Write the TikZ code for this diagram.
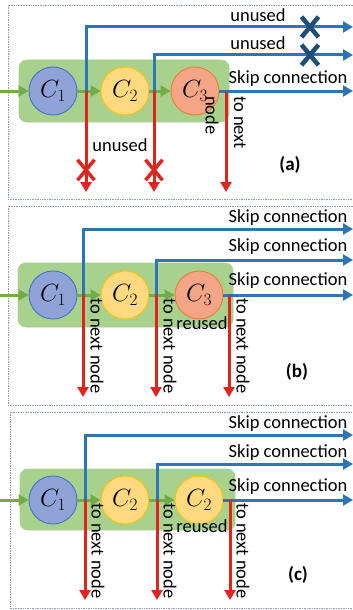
\documentclass[tikz,border=0pt]{standalone}
\usepackage{fontspec}
\setmainfont{Carlito}
\usepackage{tikz}
\definecolor{skipblue}{RGB}{46,117,182}
\definecolor{crossblue}{RGB}{31,78,121}
\definecolor{nextred}{RGB}{224,36,30}
\definecolor{flowgreen}{RGB}{112,173,71}
\definecolor{boxgreen}{RGB}{169,209,142}
\definecolor{cellblue}{RGB}{143,163,216}
\definecolor{cellblueline}{RGB}{68,114,196}
\definecolor{cellyellow}{RGB}{255,217,127}
\definecolor{cellyellowline}{RGB}{255,192,0}
\definecolor{cellred}{RGB}{243,165,133}
\definecolor{cellredline}{RGB}{237,125,49}
\definecolor{framegray}{RGB}{132,151,190}
\usetikzlibrary{arrows.meta, shapes.misc}

\begin{document}
\begin{tikzpicture}[x=1pt, y=-1pt,
					>={Triangle[length=10pt,width=11pt]},   %Pfeilspitzen
					font=\fontsize{18.5}{20}\selectfont,
					cross/.style={draw, cross out, minimum width=#1, minimum height=1.2*#1, inner sep=0pt, outer sep=0pt},
					bluecross/.style={cross=17, crossblue, line width=4.5pt},
					redcross/.style={cross=17, nextred, line width=3.5pt},
					frame/.style={framegray, densely dotted, line width=0.7pt},
					box/.style={rounded corners=8pt, fill=boxgreen, draw=flowgreen!60, line width=0.8pt},
					cell/.style={circle, minimum size=48pt, inner sep=0pt, line width=0.9pt, font=\fontsize{26}{28}\selectfont},
					c1/.style={cell, fill=cellblue, draw=cellblueline},
					c2/.style={cell, fill=cellyellow, draw=cellyellowline},
					c3/.style={cell, fill=cellred, draw=cellredline},
					flow/.style={->, flowgreen, line width=3pt},
					skip/.style={->, skipblue, line width=3pt},
					next/.style={->, nextred, line width=3pt},
					vtext/.style={rotate=-90, anchor=west, inner sep=1pt},
					tag/.style={font=\fontsize{19}{21}\selectfont\bfseries}]
					\useasboundingbox (0,0) rectangle (353,610);
					% Teil (a)
					\draw[frame] (8,5) rectangle (358,199);
					\node[box, minimum width=210, minimum height=62] (boxa) at (124,91) {};
					\node[c1] (a1) at (53,91) {$C_1$};
					\node[c2] (a2) at (125,91) {$C_2$};
					\node[c3] (a3) at (195,91) {$C_3$};
					\coordinate (ain) at (0,91);
					\draw[flow] (ain) -- (a1);
					\draw[flow] (a1) -- (a2);
					\draw[flow] (a2) -- (a3);
					\coordinate (aj1) at (86,91);
					\coordinate (aj2) at (154,91);
					\coordinate (aj3) at (226,91);
					\coordinate (as1) at (353,27);
					\coordinate (as2) at (353,55);
					\coordinate (as3) at (353,91);
					\draw[skip] (aj1) |- (as1);
					\draw[skip] (aj2) |- (as2);
					\draw[skip] (a3) -- (as3);
					\foreach \n/\x in {1/86,2/154,3/226} {
						\coordinate (ad\n) at (\x,192);
						\draw[next] (aj\n) -- (ad\n);
					}
					\node[bluecross] (ax1) at (310,27) {};
					\node[bluecross] (ax2) at (310,55) {};
					\node[redcross] (ax3) at (86,170) {};
					\node[redcross] (ax4) at (154,170) {};
					\node (la1) at (258,15) {unused};
					\node (la2) at (258,43) {unused};
					\node (la3) at (288,79) {Skip connection};
					\node (la4) at (120,145) {unused};
					\node[vtext] (la5) at (212,95) {node};
					\node[vtext] (la6) at (240,95) {to next};
					\node[tag] (ta) at (290,165) {(a)};
					% Teil (b)
					\draw[frame] (8,206) rectangle (358,405);
					\node[box, minimum width=215, minimum height=64] (boxb) at (125.5,295) {};
					\node[c1] (b1) at (53,295) {$C_1$};
					\node[c2] (b2) at (125,295) {$C_2$};
					\node[c3] (b3) at (199,295) {$C_3$};
					\coordinate (bin) at (0,295);
					\draw[flow] (bin) -- (b1);
					\draw[flow] (b1) -- (b2);
					\draw[flow] (b2) -- (b3);
					\coordinate (bj1) at (83,295);
					\coordinate (bj2) at (156,295);
					\coordinate (bj3) at (229,295);
					\coordinate (bs1) at (353,229);
					\coordinate (bs2) at (353,260);
					\coordinate (bs3) at (353,295);
					\draw[skip] (bj1) |- (bs1);
					\draw[skip] (bj2) |- (bs2);
					\draw[skip] (b3) -- (bs3);
					\foreach \n/\x in {1/83,2/156,3/229} {
						\coordinate (bd\n) at (\x,397);
						\draw[next] (bj\n) -- (bd\n);
						\node[vtext] (bn\n) at (\x+14,297) {to next node};
					}
					\foreach \n/\y in {1/218,2/247,3/281}
						\node (lb\n) at (288,\y) {Skip connection};
					\node (lb4) at (202,323) {reused};
					\node[tag] (tb) at (297,372) {(b)};
					% Teil (c)
					\draw[frame] (10,412) rectangle (358,608);
					\node[box, minimum width=215, minimum height=61] (boxc) at (127.5,499.5) {};
					\node[c1] (c1) at (53,500) {$C_1$};
					\node[c2] (c2) at (125,500) {$C_2$};
					\node[c2] (c3) at (199,500) {$C_2$};
					\coordinate (cin) at (0,500);
					\draw[flow] (cin) -- (c1);
					\draw[flow] (c1) -- (c2);
					\draw[flow] (c2) -- (c3);
					\coordinate (cj1) at (85,500);
					\coordinate (cj2) at (157,500);
					\coordinate (cj3) at (230,500);
					\coordinate (cs1) at (353,435);
					\coordinate (cs2) at (353,464);
					\coordinate (cs3) at (353,500);
					\draw[skip] (cj1) |- (cs1);
					\draw[skip] (cj2) |- (cs2);
					\draw[skip] (c3) -- (cs3);
					\foreach \n/\x in {1/85,2/157,3/230} {
						\coordinate (cd\n) at (\x,600);
						\draw[next] (cj\n) -- (cd\n);
						\node[vtext] (cn\n) at (\x+13,502) {to next node};
					}
					\foreach \n/\y in {1/424,2/453,3/487}
						\node (lc\n) at (288,\y) {Skip connection};
					\node (lc4) at (202,526) {reused};
					\node[tag] (tc) at (298,575) {(c)};
				\end{tikzpicture}
\end{document}
